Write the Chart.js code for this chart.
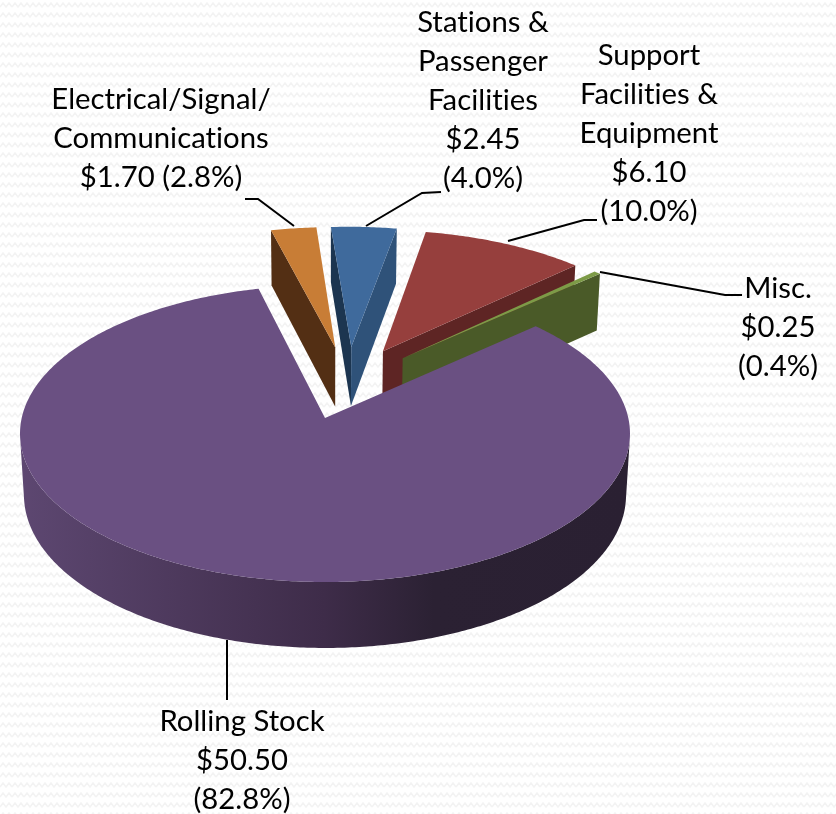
<!DOCTYPE html>
<html>
<head>
<meta charset="utf-8">
<script src="https://cdn.jsdelivr.net/npm/chart.js@4"></script>
<style>
  html, body { margin: 0; padding: 0; width: 836px; height: 814px; overflow: hidden; background-color: #fff; }
  body { background-image: url("data:image/svg+xml,%3Csvg xmlns='http://www.w3.org/2000/svg' width='12' height='10'%3E%3Cpath d='M0 7 L3 3 L6 7 L9 3 L12 7' fill='none' stroke='%23f3f3f3' stroke-width='1.6'/%3E%3C/svg%3E"); }
  canvas { display: block; }
</style>
</head>
<body>
<canvas id="pie" width="836" height="814"></canvas>
<script>
const categories = ['Rolling Stock', 'Electrical/Signal/Communications', 'Stations & Passenger Facilities', 'Support Facilities & Equipment', 'Misc.'];
const values = [50.5, 1.7, 2.45, 6.1, 0.25];

const topColors = ['#6a5082', '#c87d36', '#3f6a9c', '#963f3d', '#7d9b47'];
const startWallColors = ['#2b2133', '#532f14', '#1c3550', '#5e2524', '#4a5a28'];
const endWallColors = ['#2b2133', '#532f14', '#2f5279', '#5e2524', '#4a5a28'];
const drawOrder = [1, 2, 3, 4, 0];

// text lines per label, {value} and {pct} get filled in from the data
const labelLines = [
  ['Rolling Stock', '{value}', '({pct})'],
  ['Electrical/Signal/', 'Communications', '{value} ({pct})'],
  ['Stations &', 'Passenger', 'Facilities', '{value}', '({pct})'],
  ['Support', 'Facilities &', 'Equipment', '{value}', '({pct})'],
  ['Misc.', '{value}', '({pct})'],
];
const labelX = [242, 161, 483, 649, 778];
const labelY = [722, 100, 23, 56, 289];
const leaders = [
  [[227, 640], [227, 700]],
  [[294, 226], [258, 199], [245, 199]],
  [[366, 226], [422, 193], [441, 192]],
  [[508, 241], [584, 220], [597, 220]],
  [[600, 272], [725, 295], [742, 295]],
];

const view = { x: 325, y: 418, squash: 0.484, depth: 62, p: 0.105, q: 0.013 };

function sliceGeometry(chart) {
  const arcs = chart.getDatasetMeta(0).data;
  const mid = (a) => (a.startAngle + a.endAngle) / 2;
  const apex = (a) => ({
    x: a.x + a.options.offset * Math.cos(mid(a)),
    y: a.y + a.options.offset * Math.sin(mid(a)),
  });
  const base = apex(arcs[0]);
  const R = arcs[0].outerRadius;
  // flat pie coordinates to the tilted view, z = 0 on top and 1 at the bottom
  const project = (px, py, z) => {
    const dx = px - base.x;
    const dv = base.y - py;
    const w = 1 + view.p * dv / R + view.q * z;
    return [view.x + dx / w, view.y + (-view.squash * dv + view.depth * z) / w];
  };
  return { arcs, apex, project };
}

function fillPoly(ctx, pts, color) {
  ctx.beginPath();
  pts.forEach((p, i) => (i ? ctx.lineTo(p[0], p[1]) : ctx.moveTo(p[0], p[1])));
  ctx.closePath();
  ctx.fillStyle = color;
  ctx.fill();
}

function area(pts) {
  let sum = 0;
  pts.forEach((p, i) => {
    const q = pts[(i + 1) % pts.length];
    sum += p[0] * q[1] - q[0] * p[1];
  });
  return sum;
}

const pie3d = {
  id: 'pie3d',
  beforeDatasetDraw(chart) {
    const ctx = chart.ctx;
    const { arcs, apex, project } = sliceGeometry(chart);
    drawOrder.forEach((i) => {
      const a = arcs[i];
      const c = apex(a);
      const steps = Math.max(4, Math.round((a.endAngle - a.startAngle) * 90));
      const rim = [];
      for (let s = 0; s <= steps; s++) {
        const t = a.startAngle + (a.endAngle - a.startAngle) * s / steps;
        rim.push([c.x + a.outerRadius * Math.cos(t), c.y + a.outerRadius * Math.sin(t)]);
      }
      const wall = (p) => [project(c.x, c.y, 0), project(p[0], p[1], 0), project(p[0], p[1], 1), project(c.x, c.y, 1)];

      const startWall = wall(rim[0]);
      const endWall = wall(rim[steps]);
      if (area(startWall) < 0) fillPoly(ctx, startWall, startWallColors[i]);
      if (area(endWall) > 0) fillPoly(ctx, endWall, endWallColors[i]);

      // only the stretch of rim facing the viewer
      const tops = [];
      const bottoms = [];
      rim.forEach((p, s) => {
        if (s === steps) return;
        const n = rim[s + 1];
        const quad = [project(p[0], p[1], 0), project(n[0], n[1], 0), project(n[0], n[1], 1), project(p[0], p[1], 1)];
        if (area(quad) < 0) {
          if (!tops.length) { tops.push(quad[0]); bottoms.push(quad[3]); }
          tops.push(quad[1]);
          bottoms.push(quad[2]);
        }
      });
      if (tops.length) {
        const g = ctx.createLinearGradient(20, 0, 629, 0);
        g.addColorStop(0, '#5d4771');
        g.addColorStop(0.5, '#3e2c49');
        g.addColorStop(0.68, '#2b2133');
        g.addColorStop(1, '#2a2032');
        fillPoly(ctx, tops.concat(bottoms.reverse()), g);
      }

      fillPoly(ctx, [project(c.x, c.y, 0)].concat(rim.map((p) => project(p[0], p[1], 0))), a.options.backgroundColor);
    });
    return false;
  },
  afterDraw(chart) {
    const ctx = chart.ctx;
    const total = values.reduce((s, v) => s + v, 0);
    ctx.save();
    ctx.strokeStyle = '#000';
    ctx.lineWidth = 2;
    leaders.forEach((line) => {
      ctx.beginPath();
      line.forEach((p, i) => (i ? ctx.lineTo(p[0], p[1]) : ctx.moveTo(p[0], p[1])));
      ctx.stroke();
    });
    ctx.fillStyle = '#000';
    ctx.font = '29.3px Lato';
    ctx.letterSpacing = '0.01px'; // stops the ti ligature
    ctx.textAlign = 'center';
    ctx.textBaseline = 'middle';
    labelLines.forEach((lines, i) => {
      const value = '$' + values[i].toFixed(2);
      const pct = (values[i] / total * 100).toFixed(1) + '%';
      lines.forEach((line, n) => {
        const text = line.replace('{value}', value).replace('{pct}', pct);
        ctx.fillText(text, labelX[i], labelY[i] + n * 39);
      });
    });
    ctx.restore();
  },
};

new Chart(document.getElementById('pie'), {
  type: 'pie',
  data: {
    labels: categories,
    datasets: [{ data: values, backgroundColor: topColors, borderWidth: 0, offset: 79 }],
  },
  options: {
    responsive: false,
    animation: false,
    rotation: 48,
    radius: 303.3,
    plugins: { legend: { display: false }, tooltip: { enabled: false } },
  },
  plugins: [pie3d],
});
</script>
</body>
</html>
